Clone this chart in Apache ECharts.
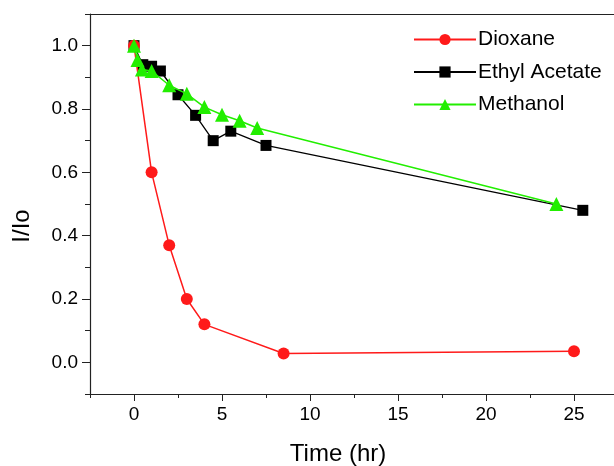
<!DOCTYPE html>
<html>
<head>
<meta charset="utf-8">
<script src="https://cdn.jsdelivr.net/npm/echarts@6/dist/echarts.min.js"></script>
<style>html,body{margin:0;padding:0;background:#fff}#c{width:614px;height:466px}</style>
</head>
<body>
<div id="c"></div>
<script>
// Data
const dioxaneX = [0, 1, 2, 3, 4, 8.5, 25];
const dioxaneY = [1.0, 0.6, 0.37, 0.2, 0.12, 0.028, 0.035];
const ethylX = [0, 0.5, 1, 1.5, 2.5, 3.5, 4.5, 5.5, 7.5, 25.5];
const ethylY = [1.0, 0.94, 0.935, 0.92, 0.845, 0.78, 0.70, 0.73, 0.685, 0.48];
const methanolX = [0, 0.2, 0.45, 1, 2, 3, 4, 5, 6, 7, 24];
const methanolY = [1.0, 0.955, 0.925, 0.92, 0.875, 0.848, 0.806, 0.782, 0.763, 0.74, 0.50];
const xMajorTicks = [0, 5, 10, 15, 20, 25];
const xMinorTicks = [-2.5, 2.5, 7.5, 12.5, 17.5, 22.5, 27.5];
const yMajorTicks = [0, 0.2, 0.4, 0.6, 0.8, 1.0];
const yMinorTicks = [-0.1, 0.1, 0.3, 0.5, 0.7, 0.9, 1.1];
const seriesNames = ['Dioxane', 'Ethyl Acetate', 'Methanol'];

const zip = (xs, ys) => xs.map((x, i) => [x, ys[i]]);
const FONT = 'Liberation Sans, Arial, sans-serif';
const axisColor = '#222';

const xRange = { min: -2.5, max: 27.5 };
const yRange = { min: -0.1, max: 1.1 };

const chart = echarts.init(document.getElementById('c'));
chart.setOption({
  animation: false,
  backgroundColor: '#fff',
  grid: { left: 90, top: 14, width: 528, bottom: 72, outerBoundsMode: 'none', containLabel: false },
  legend: {
    orient: 'vertical', left: 413, top: 29, itemWidth: 62, itemHeight: 14, itemGap: 11.5, padding: 0,
    data: seriesNames,
    textStyle: { fontFamily: FONT, fontSize: 21, color: '#000', padding: [0, 0, 0, -3] }
  },
  xAxis: [
    {
      type: 'value', ...xRange, position: 'bottom',
      name: 'Time (hr)', nameLocation: 'middle', nameGap: 48,
      nameTextStyle: { fontFamily: FONT, fontSize: 24, color: '#000', padding: [0, 32, 0, 0] },
      axisLine: { show: true, onZero: false, lineStyle: { color: axisColor, width: 1.2 } },
      axisTick: { show: true, customValues: xMajorTicks, length: 7, lineStyle: { color: axisColor } },
      axisLabel: { customValues: xMajorTicks, fontFamily: FONT, fontSize: 19, color: '#000', margin: 11 },
      splitLine: { show: false }
    },
    {
      type: 'value', ...xRange, position: 'bottom',
      axisLine: { show: false, onZero: false },
      axisTick: { show: true, customValues: xMinorTicks, length: 4, lineStyle: { color: axisColor } },
      axisLabel: { show: false },
      splitLine: { show: false }
    },
    {
      type: 'value', ...xRange, position: 'top',
      axisLine: { show: true, onZero: false, lineStyle: { color: axisColor, width: 1.2 } },
      axisTick: { show: false },
      axisLabel: { show: false },
      splitLine: { show: false }
    }
  ],
  yAxis: [
    {
      type: 'value', ...yRange, position: 'left',
      name: 'I/Io', nameLocation: 'middle', nameGap: 56,
      nameTextStyle: { fontFamily: FONT, fontSize: 24, color: '#000', padding: [0, 44, 0, 0] },
      axisLine: { show: true, onZero: false, lineStyle: { color: axisColor, width: 1.2 } },
      axisTick: { show: true, customValues: yMajorTicks, length: 8, lineStyle: { color: axisColor } },
      axisLabel: { customValues: yMajorTicks, fontFamily: FONT, fontSize: 19, color: '#000', margin: 12,
        formatter: v => v.toFixed(1) },
      splitLine: { show: false }
    },
    {
      type: 'value', ...yRange, position: 'left',
      axisLine: { show: false, onZero: false },
      axisTick: { show: true, customValues: yMinorTicks, length: 5, lineStyle: { color: axisColor } },
      axisLabel: { show: false },
      splitLine: { show: false }
    }
  ],
  series: [
    {
      name: seriesNames[0], type: 'line', data: zip(dioxaneX, dioxaneY),
      symbol: 'circle', symbolSize: 12,
      lineStyle: { color: '#ff1a1a', width: 1.5 }, itemStyle: { color: '#ff1a1a' }, z: 3
    },
    {
      name: seriesNames[1], type: 'line', data: zip(ethylX, ethylY),
      symbol: 'rect', symbolSize: 11,
      lineStyle: { color: '#000', width: 1.3 }, itemStyle: { color: '#000' }, z: 2
    },
    {
      name: seriesNames[2], type: 'line', data: zip(methanolX, methanolY),
      symbol: 'triangle', symbolSize: 14,
      lineStyle: { color: '#22ee00', width: 1.5 }, itemStyle: { color: '#22ee00' }, z: 4
    }
  ]
});
</script>
</body>
</html>
